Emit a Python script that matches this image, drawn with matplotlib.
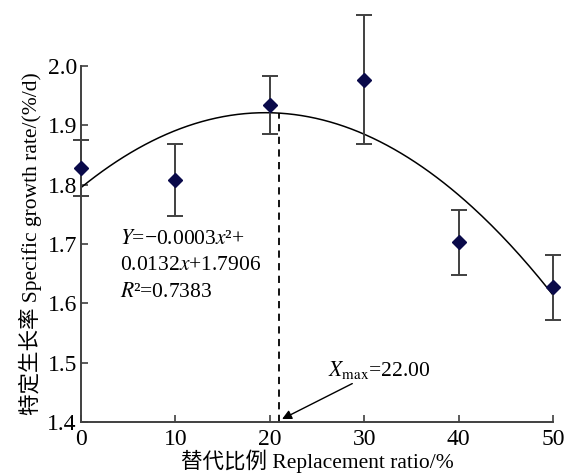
import numpy as np
import matplotlib.pyplot as plt

plt.rcParams['font.family'] = ['Liberation Serif', 'Noto Sans CJK SC']
plt.rcParams['mathtext.fontset'] = 'stix'

# replacement ratio (%) and specific growth rate (%/d)
ratio = [0, 10, 20, 30, 40, 50]
sgr = [1.828, 1.808, 1.934, 1.977, 1.703, 1.627]
sgr_err = [0.047, 0.061, 0.049, 0.109, 0.055, 0.055]

# quadratic trend line as drawn
fit_coef = [-0.000331, 0.01293, 1.795]
x_max = 21.0

x_ticks = [0, 10, 20, 30, 40, 50]
y_ticks = [1.4, 1.5, 1.6, 1.7, 1.8, 1.9, 2.0]

axis_col = '#404040'

fig = plt.figure(figsize=(5.68, 4.73), dpi=100)
ax = fig.add_axes([0.1426, 0.1078, 0.831, 0.7527])

xs = np.linspace(0, 50, 200)
ax.plot(xs, np.polyval(fit_coef, xs), color='black', lw=1.1, zorder=2)

ax.errorbar(ratio, sgr, yerr=sgr_err, fmt='D', ms=7, color='#0a0a4a',
            ecolor=axis_col, elinewidth=1.4, capsize=6, capthick=1.4,
            clip_on=False, zorder=3)

y_top = np.polyval(fit_coef, x_max)
ax.plot([x_max, x_max], [1.4, y_top], color='black', lw=1.3, ls=(0, (4, 3)), zorder=2)

ax.set_xlim(0, 50)
ax.set_ylim(1.4, 2.0)
ax.set_xticks(x_ticks)
ax.set_yticks(y_ticks)
ax.set_yticklabels([f'{v:.1f}' for v in y_ticks])
ax.tick_params(direction='in', length=5, width=1.2, color=axis_col,
               labelsize=17, pad=3)
ax.tick_params(axis='x', pad=5)
for s in ['top', 'right']:
    ax.spines[s].set_visible(False)
for s in ['left', 'bottom']:
    ax.spines[s].set_color(axis_col)
    ax.spines[s].set_linewidth(1.4)

ax.set_xlabel('替代比例 Replacement ratio/%', fontsize=15.5, labelpad=0)
ax.set_ylabel('特定生长率 Specific growth rate/(%/d)', fontsize=15.5, labelpad=4)

eq = ['$\\mathit{Y}$=−0.0003$\\mathit{x}$²+',
      '0.0132$\\mathit{x}$+1.7906',
      '$\\mathit{R}$²=0.7383']
for i, line in enumerate(eq):
    ax.text(4.1, 1.707 - i * 0.044, line, fontsize=15.5, va='center', ha='left')

ax.annotate('$\\mathit{X}_{\\mathrm{max}}$=22.00', xy=(21.3, 1.405),
            xytext=(26.2, 1.488), fontsize=15.5, va='center', ha='left',
            arrowprops=dict(arrowstyle='-|>', color='black', lw=1.0,
                            shrinkA=0, shrinkB=0, mutation_scale=14))

fig.savefig('out.png', dpi=100)
